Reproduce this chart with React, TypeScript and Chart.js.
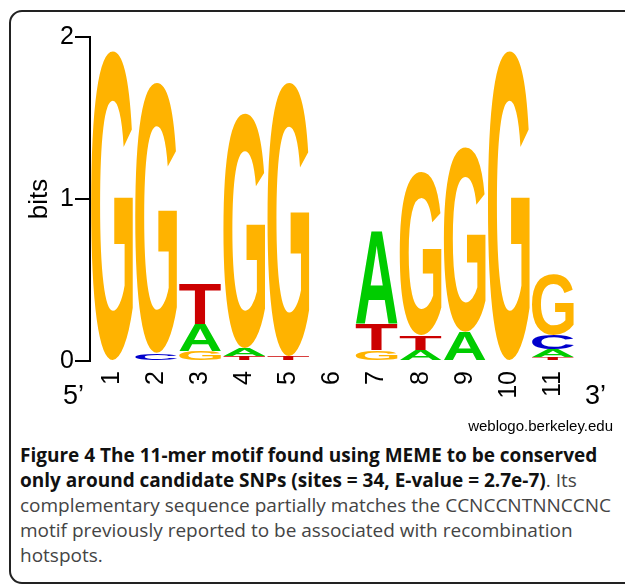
import React, { useEffect, useRef } from 'react';
import { Chart, registerables } from 'chart.js';

Chart.register(...registerables);

// Motif positions (x categories)
const positions = ['1', '2', '3', '4', '5', '6', '7', '8', '9', '10', '11'];
// Bases
const bases = ['A', 'C', 'G', 'T'];
// Information content (bits) of each base at each position
const heightA = [0, 0, 0.17, 0.05, 0, 0, 0.57, 0.07, 0.18, 0, 0.05];
const heightC = [0, 0.05, 0, 0, 0, 0, 0, 0, 0, 0, 0.086];
const heightG = [1.915, 1.67, 0.06, 1.45, 1.69, 0, 0.065, 1.01, 1.14, 1.915, 0.37];
const heightT = [0, 0, 0.245, 0.03, 0.03, 0, 0.16, 0.09, 0, 0, 0.025];
// Y tick labels
const yTicks = [0, 1, 2];

const baseColors: Record<string, string> = {
  A: '#00CC00',
  C: '#0000CC',
  G: '#FFB300',
  T: '#CC0000',
};

const AXIS_FONT = '"Liberation Sans", Arial, Helvetica, sans-serif';

function buildRanges() {
  const table: Record<string, number[]> = { A: heightA, C: heightC, G: heightG, T: heightT };
  const out: Record<string, ([number, number] | null)[]> = { A: [], C: [], G: [], T: [] };
  positions.forEach((_, i) => {
    bases.forEach((b) => (out[b][i] = null));
    const items = bases
      .map((b) => ({ b, h: table[b][i] }))
      .filter((d) => d.h > 0)
      .sort((p, q) => p.h - q.h);
    let acc = 0;
    items.forEach((d) => {
      out[d.b][i] = [acc, acc + d.h];
      acc += d.h;
    });
  });
  return out;
}

function drawGlyph(
  ctx: CanvasRenderingContext2D,
  letter: string,
  left: number,
  top: number,
  w: number,
  h: number,
  color: string
) {
  ctx.save();
  ctx.font = `bold 200px ${AXIS_FONT}`;
  ctx.textAlign = 'left';
  ctx.textBaseline = 'alphabetic';
  const m = ctx.measureText(letter);
  const gw = m.actualBoundingBoxLeft + m.actualBoundingBoxRight;
  const gh = m.actualBoundingBoxAscent + m.actualBoundingBoxDescent;
  ctx.translate(left, top);
  ctx.scale(w / gw, h / gh);
  ctx.fillStyle = color;
  ctx.fillText(letter, m.actualBoundingBoxLeft, m.actualBoundingBoxAscent);
  ctx.restore();
}

const logoPlugin = {
  id: 'logoLetters',
  afterDatasetsDraw(chart: any) {
    const ctx = chart.ctx as CanvasRenderingContext2D;
    chart.data.datasets.forEach((ds: any, di: number) => {
      const meta = chart.getDatasetMeta(di);
      meta.data.forEach((el: any, i: number) => {
        if (ds.data[i] == null) return;
        const { x, y, base, width } = el.getProps(['x', 'y', 'base', 'width'], true);
        const top = Math.min(y, base);
        const h = Math.abs(base - y);
        if (h < 0.3) return;
        drawGlyph(ctx, ds.label, x - width / 2, top, width, h, ds.glyphColor);
      });
    });
  },
};

export default function App() {
  const canvasRef = useRef<HTMLCanvasElement | null>(null);

  useEffect(() => {
    if (!canvasRef.current) return;
    const ranges = buildRanges();
    const chart = new Chart(canvasRef.current, {
      type: 'bar',
      data: {
        labels: positions,
        datasets: bases.map((b) => ({
          label: b,
          data: ranges[b] as any,
          backgroundColor: 'rgba(0,0,0,0)',
          borderWidth: 0,
          grouped: false,
          categoryPercentage: 1,
          barPercentage: 0.95,
          glyphColor: baseColors[b],
        })) as any,
      },
      options: {
        responsive: false,
        animation: false,
        events: [],
        layout: { padding: { left: 0, top: 37, right: 50, bottom: 0 } },
        plugins: {
          legend: { display: false },
          tooltip: { enabled: false },
        },
        scales: {
          x: {
            type: 'category',
            offset: true,
            grid: { display: false },
            border: { display: false },
            ticks: {
              color: '#000',
              font: { family: AXIS_FONT, size: 25 },
              minRotation: 90,
              maxRotation: 90,
              autoSkip: false,
              padding: 2,
            },
            afterFit(s: any) {
              s.height = 59;
            },
          },
          y: {
            min: 0,
            max: 2,
            afterBuildTicks(s: any) {
              s.ticks = yTicks.map((v) => ({ value: v }));
            },
            ticks: {
              color: '#000',
              font: { family: AXIS_FONT, size: 25 },
              padding: 1,
            },
            grid: {
              drawOnChartArea: false,
              drawTicks: true,
              tickLength: 15,
              color: '#000',
              lineWidth: 2,
            },
            border: { display: true, color: '#000', width: 2 },
            title: {
              display: true,
              text: 'bits',
              color: '#000',
              font: { family: AXIS_FONT, size: 26 },
              padding: { top: 24, bottom: 0 },
            },
            afterFit(s: any) {
              s.width = 90;
            },
          },
        },
      },
      plugins: [logoPlugin],
    } as any);
    return () => chart.destroy();
  }, []);

  const abs: React.CSSProperties = { position: 'absolute', margin: 0, whiteSpace: 'nowrap' };

  return (
    <div style={{ position: 'absolute', left: 0, top: 0, width: 625, height: 586, overflow: 'hidden', background: '#fff' }}>
      <div
        style={{
          position: 'absolute',
          left: 9,
          top: 10,
          width: 640,
          height: 574,
          border: '2px solid #222',
          borderRadius: 13,
          boxSizing: 'border-box',
        }}
      />
      <canvas
        ref={canvasRef}
        width={625}
        height={420}
        style={{ position: 'absolute', left: 0, top: 0, width: 625, height: 420 }}
      />
      <div style={{ ...abs, left: 63, top: 382, fontFamily: AXIS_FONT, fontSize: 27, lineHeight: 1, color: '#000' }}>5’</div>
      <div style={{ ...abs, left: 585, top: 382, fontFamily: AXIS_FONT, fontSize: 27, lineHeight: 1, color: '#000' }}>3’</div>
      <div style={{ ...abs, right: 625 - 613, top: 418, fontFamily: AXIS_FONT, fontSize: 15, lineHeight: 1, color: '#000' }}>
        weblogo.berkeley.edu
      </div>
      <div
        style={{
          ...abs,
          left: 20,
          top: 443,
          fontFamily: '"Open Sans", "Noto Sans", sans-serif',
          fontSize: 19,
          lineHeight: '25px',
          color: '#444',
        }}
      >
        <div>
          <b style={{ color: '#111' }}>Figure 4 The 11-mer motif found using MEME to be conserved</b>
        </div>
        <div>
          <b style={{ color: '#111' }}>only around candidate SNPs (sites = 34, E-value = 2.7e-7)</b>. Its
        </div>
        <div>complementary sequence partially matches the CCNCCNTNNCCNC</div>
        <div>motif previously reported to be associated with recombination</div>
        <div>hotspots.</div>
      </div>
    </div>
  );
}
